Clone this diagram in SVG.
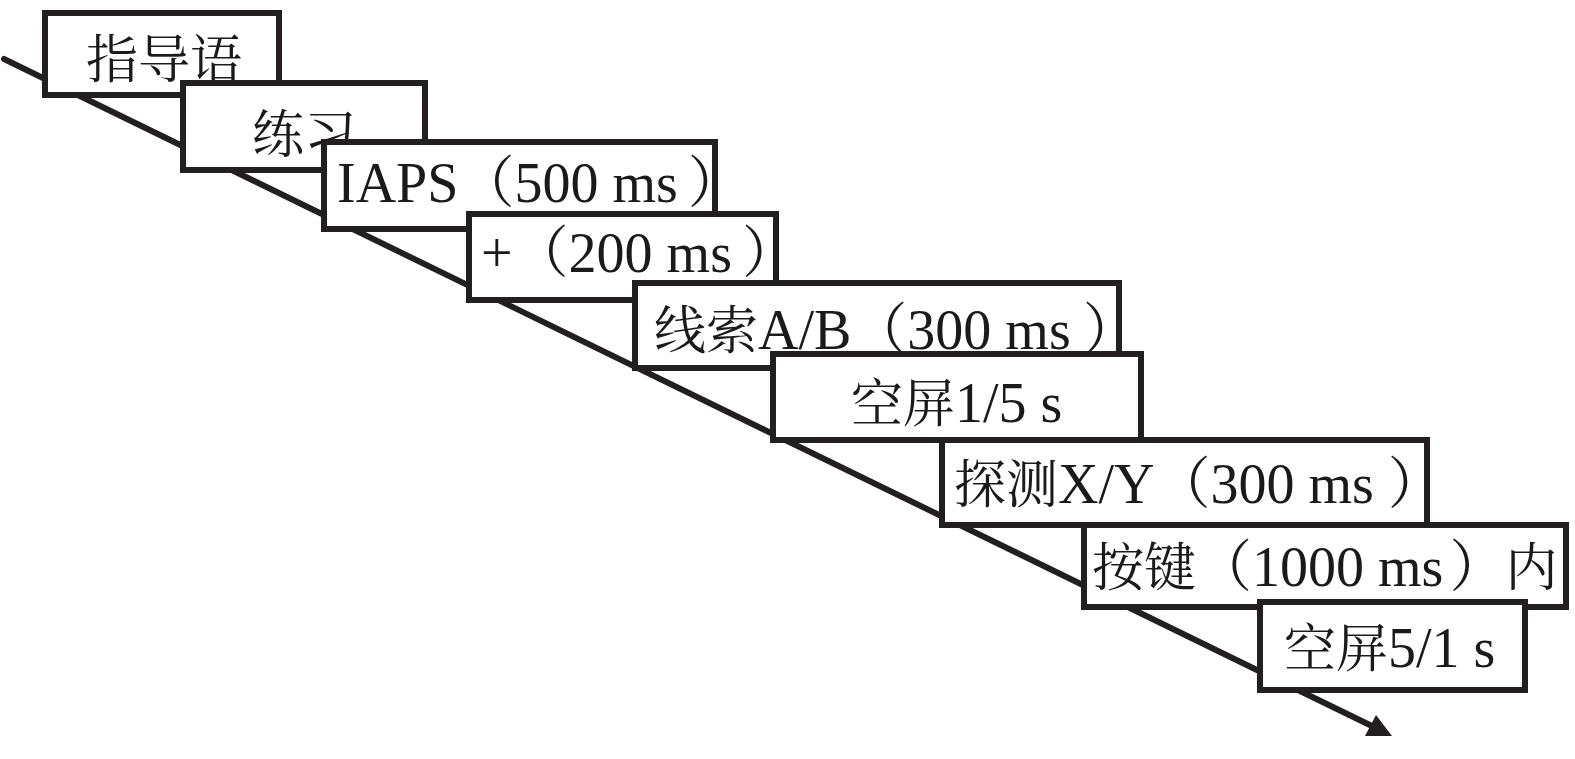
<svg xmlns="http://www.w3.org/2000/svg" width="1575" height="759" viewBox="0 0 1575 759">
<style>
.box{fill:#ffffff;stroke:#231f20;stroke-width:6}
.lbl{font-family:"Liberation Serif","Noto Serif CJK SC","Noto Sans CJK SC",serif;font-size:56px;fill:#1a1a1a}
.cjk{font-size:52px}
.conn{stroke:#231f20;stroke-width:6;stroke-linecap:round;fill:none}
</style>
<rect width="1575" height="759" fill="#ffffff"/>
<g id="connectors">
<line class="conn" x1="4" y1="59" x2="1376" y2="728"/>
<polygon points="1365,736 1392,736 1376,715" fill="#231f20"/>
</g>
<g id="n1"><rect class="box" x="45" y="13" width="234" height="82"/><text class="lbl" x="86" y="78"><tspan class="cjk">指导语</tspan></text></g>
<g id="n2"><rect class="box" x="183" y="83" width="242" height="87"/><text class="lbl" x="252" y="153"><tspan class="cjk">练习</tspan></text></g>
<g id="n3"><rect class="box" x="324" y="142" width="391" height="87"/><text class="lbl" x="337" y="202">IAPS（500 ms<tspan dx="10">）</tspan></text></g>
<g id="n4"><rect class="box" x="469" y="214" width="307" height="86"/><text class="lbl" x="481" y="272">+（200 ms<tspan dx="10">）</tspan></text></g>
<g id="n5"><rect class="box" x="635" y="283" width="484" height="85"/><text class="lbl" x="654" y="349"><tspan class="cjk">线索</tspan>A/B（300 ms<tspan dx="12">）</tspan></text></g>
<g id="n6"><rect class="box" x="773" y="354" width="368" height="86"/><text class="lbl" x="851" y="422"><tspan class="cjk">空屏</tspan>1/5 s</text></g>
<g id="n7"><rect class="box" x="942" y="440" width="485" height="85"/><text class="lbl" x="954" y="503"><tspan class="cjk">探测</tspan>X/Y（300 ms<tspan dx="14">）</tspan></text></g>
<g id="n8"><rect class="box" x="1084" y="525" width="482" height="82"/><text class="lbl" x="1092" y="586"><tspan class="cjk">按键</tspan>（1000 ms<tspan dx="6">）</tspan><tspan class="cjk">内</tspan></text></g>
<g id="n9"><rect class="box" x="1260" y="602" width="265" height="88"/><text class="lbl" x="1284" y="667"><tspan class="cjk">空屏</tspan>5/1 s</text></g>
</svg>
